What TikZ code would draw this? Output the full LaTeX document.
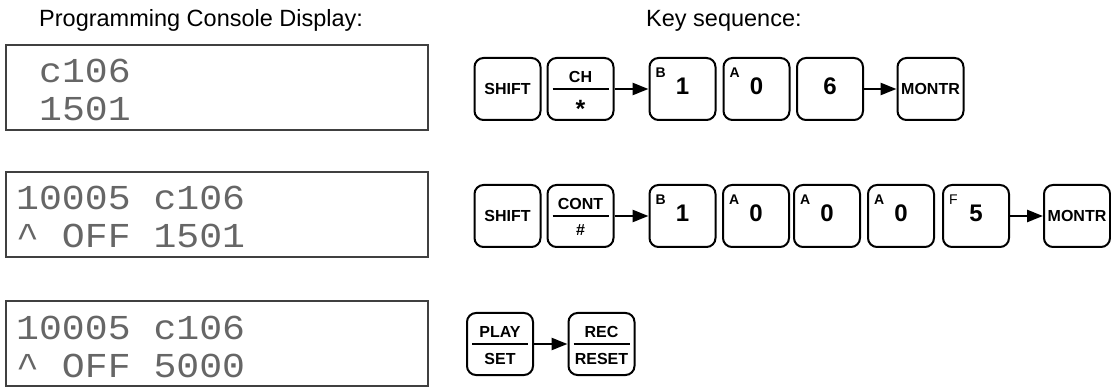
\documentclass[tikz,border=0pt]{standalone}
\usepackage{fontspec}
\setmainfont{Liberation Sans}
\newfontfamily\lcdfont[FakeStretch=1.09]{Liberation Mono}
\usetikzlibrary{arrows.meta}

\tikzset{
  keybox/.style={draw, line width=2pt, rounded corners=9pt, minimum width=66pt, minimum height=62pt, inner sep=0pt, font=\bfseries\fontsize{16}{16}\selectfont},
  numkey/.style={keybox, text depth=5pt, font=\bfseries\fontsize{24}{24}\selectfont},
  keyletter/.style={font=\bfseries\fontsize{14}{14}\selectfont, inner sep=0pt, anchor=north west, xshift=7pt, yshift=-11pt},
  keytext/.style={font=\bfseries\fontsize{16}{16}\selectfont, inner sep=0pt},
  keysymbol/.style={font=\bfseries\fontsize{25}{25}\selectfont, inner sep=0pt},
  display/.style={draw=black!75, line width=1.4pt, minimum width=422pt, minimum height=85pt, inner sep=0pt},
  lcd/.style={font=\lcdfont\fontsize{35}{35}\selectfont, text=black!60, anchor=base west, inner sep=0pt},
  heading/.style={font=\fontsize{23.5}{24}\selectfont, anchor=base west, inner sep=0pt},
  keyarrow/.style={line width=2.5pt, -{Triangle[length=16pt,width=12pt]}},
  splitline/.style={line width=2pt}
}

\begin{document}
\begin{tikzpicture}[x=1pt,y=-1pt]
\useasboundingbox (0,0) rectangle (1111,387);

% headings
\node[heading] (hdisp) at (39,27) {Programming Console Display:};
\node[heading] (hkeys) at (646,27) {Key sequence:};

% console displays
\node[display] (dispA) at (217,87.5) {};
\node[lcd] (dispA1) at (39,83) {c106};
\node[lcd] (dispA2) at (39,121) {1501};

\node[display] (dispB) at (217,214.5) {};
\node[lcd] (dispB1) at (16,210) {10005 c106};
\node[lcd] (dispB2) at (16,248) {\textasciicircum{} OFF 1501};

\node[display] (dispC) at (217,343.5) {};
\node[lcd] (dispC1) at (16,339) {10005 c106};
\node[lcd] (dispC2) at (16,377) {\textasciicircum{} OFF 5000};

% first key sequence
\node[keybox] (shiftA) at (507.5,89) {SHIFT};
\node[keybox, label={[keytext, yshift=12.5pt]center:CH}, label={[keysymbol, yshift=-20pt]center:*}] (chA) at (580.5,89) {};
\node[numkey, label={[keyletter]north west:B}] (bA) at (682.5,89) {1};
\node[numkey, label={[keyletter]north west:A}] (aA) at (756.5,89) {0};
\node[numkey] (sixA) at (830,89) {6};
\node[keybox] (montrA) at (930.5,89) {MONTR};

\draw[splitline] ([xshift=6pt]chA.west) -- ([xshift=-6pt]chA.east);
\draw[keyarrow] (chA) -- (bA);
\draw[keyarrow] (sixA) -- (montrA);

% second key sequence
\node[keybox] (shiftB) at (507.5,216) {SHIFT};
\node[keybox, label={[keytext, yshift=12.5pt]center:CONT}, label={[keytext, yshift=-14pt]center:\#}] (contB) at (580.5,216) {};
\node[numkey, label={[keyletter]north west:B}] (bB) at (682.5,216) {1};
\node[numkey, label={[keyletter]north west:A}] (aB1) at (756,216) {0};
\node[numkey, label={[keyletter]north west:A}] (aB2) at (827,216) {0};
\node[numkey, label={[keyletter]north west:A}] (aB3) at (901,216) {0};
\node[numkey, label={[keyletter, font=\fontsize{14}{14}\selectfont]north west:F}] (fB) at (976,216) {5};
\node[keybox] (montrB) at (1077,216) {MONTR};

\draw[splitline] ([xshift=6pt]contB.west) -- ([xshift=-6pt]contB.east);
\draw[keyarrow] (contB) -- (bB);
\draw[keyarrow] (fB) -- (montrB);

% third key sequence
\node[keybox, label={[keytext, yshift=12pt]center:PLAY}, label={[keytext, yshift=-15pt]center:SET}] (play) at (500,344) {};
\node[keybox, label={[keytext, yshift=12pt]center:REC}, label={[keytext, yshift=-15pt]center:RESET}] (rec) at (601.5,344) {};

\draw[splitline] ([xshift=6pt]play.west) -- ([xshift=-6pt]play.east);
\draw[splitline] ([xshift=6pt]rec.west) -- ([xshift=-6pt]rec.east);
\draw[keyarrow] (play) -- (rec);
\end{tikzpicture}
\end{document}
